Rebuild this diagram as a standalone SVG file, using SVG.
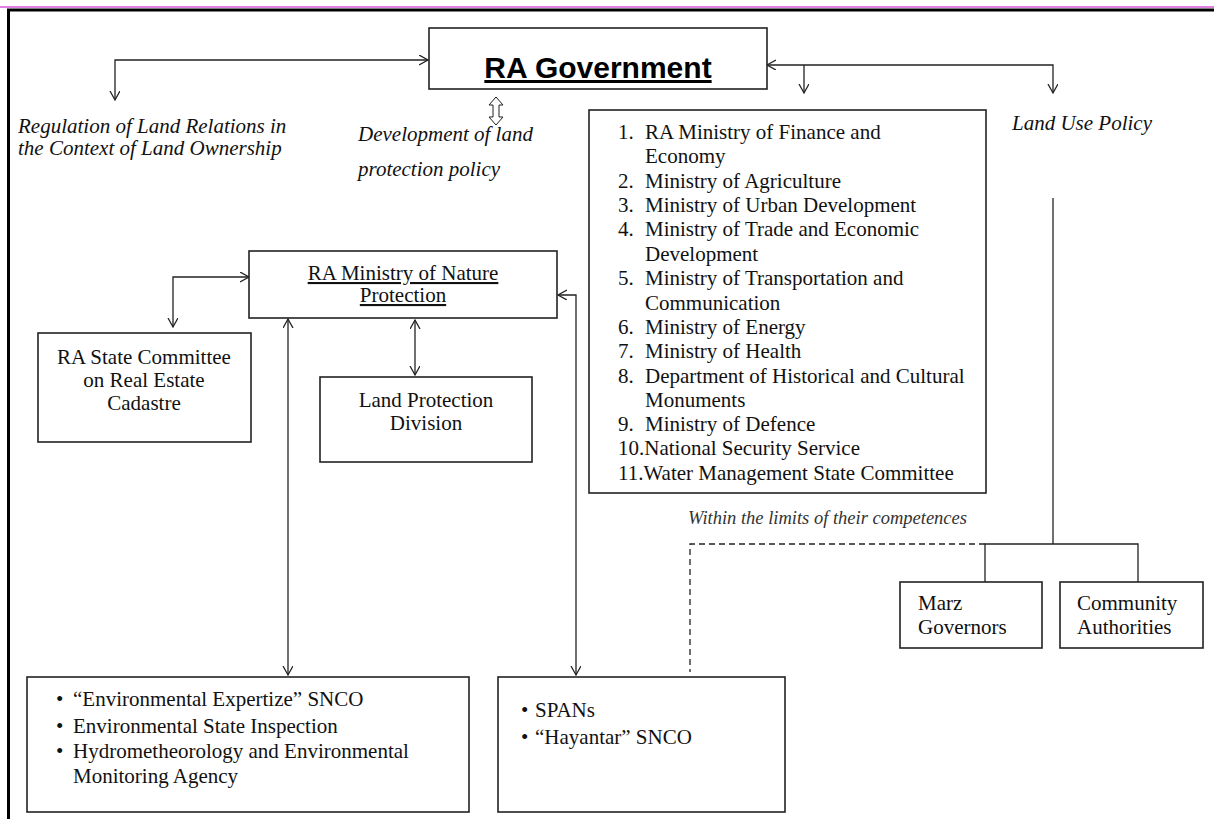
<svg xmlns="http://www.w3.org/2000/svg" width="1214" height="819" viewBox="0 0 1214 819">
<style>
.box{fill:#fff;stroke:#222;stroke-width:1.6}
.t{font-family:"Liberation Serif","Times New Roman",serif;font-size:21px;fill:#111}
.it{font-family:"Liberation Serif","Times New Roman",serif;font-size:21px;font-style:italic;fill:#111}
.c{text-anchor:middle}
.u{text-decoration:underline}
.ln{fill:none;stroke:#222;stroke-width:1.3}
.arr{marker-start:url(#ah);marker-end:url(#ah)}
.end{marker-end:url(#ah)}
</style>
<defs>
<marker id="ah" markerUnits="userSpaceOnUse" markerWidth="12" markerHeight="12" refX="9" refY="5" orient="auto-start-reverse" viewBox="0 0 12 12">
<path d="M0,0 L9,5 L0,10" fill="none" stroke="#222" stroke-width="1.3"/>
</marker>
</defs>
<rect width="1214" height="819" fill="#fff"/>
<g id="frame">
<line x1="0" y1="7" x2="1214" y2="7" stroke="#c000c0" stroke-width="1"/>
<line x1="7" y1="10" x2="1214" y2="10" stroke="#000" stroke-width="3"/>
<line x1="8.5" y1="9" x2="8.5" y2="819" stroke="#000" stroke-width="3"/>
</g>
<g id="connectors">
<path class="ln arr" d="M115,100 V60 H428"/>
<path class="ln arr" d="M767,65 H1053 V93"/>
<path class="ln end" d="M804,65 V93"/>
<polygon points="496,97 503,105 499,105 499,117 503,117 496,125 489,117 493,117 493,105 489,105" fill="#fff" stroke="#222" stroke-width="1"/>
<path class="ln arr" d="M173,327 V277 H249"/>
<path class="ln arr" d="M415,320 V375"/>
<path class="ln arr" d="M288,319 V675"/>
<path class="ln arr" d="M558,295 H576 V675"/>
<path class="ln" d="M1053,198 V544"/>
<path class="ln" d="M985,582 V544 H1138 V582"/>
<path class="ln" d="M985,544 H690 V672" stroke-dasharray="6,4"/>
</g>
<g id="labels">
<text class="it" x="18" y="133">Regulation of Land Relations in</text>
<text class="it" x="18" y="155">the Context of Land Ownership</text>
<text class="it" x="358" y="141">Development of land</text>
<text class="it" x="358" y="176">protection policy</text>
<text class="it" x="1012" y="130">Land Use Policy</text>
<text class="it" x="688" y="524" style="font-size:18.5px;fill:#333">Within the limits of their competences</text>
</g>
<g id="gov">
<rect class="box" x="429" y="28" width="338" height="61"/>
<text x="598" y="78" text-anchor="middle" style="font-family:'Liberation Sans',Arial,sans-serif;font-size:30px;font-weight:bold;text-decoration:underline">RA Government</text>
</g>
<g id="ministries">
<rect class="box" x="589" y="110" width="397" height="383"/>
<text class="t">
<tspan x="618" y="139">1.</tspan><tspan x="645" y="139">RA Ministry of Finance and</tspan>
<tspan x="645" y="163">Economy</tspan>
<tspan x="618" y="188">2.</tspan><tspan x="645" y="188">Ministry of Agriculture</tspan>
<tspan x="618" y="212">3.</tspan><tspan x="645" y="212">Ministry of Urban Development</tspan>
<tspan x="618" y="236">4.</tspan><tspan x="645" y="236">Ministry of Trade and Economic</tspan>
<tspan x="645" y="261">Development</tspan>
<tspan x="618" y="285">5.</tspan><tspan x="645" y="285">Ministry of Transportation and</tspan>
<tspan x="645" y="310">Communication</tspan>
<tspan x="618" y="334">6.</tspan><tspan x="645" y="334">Ministry of Energy</tspan>
<tspan x="618" y="358">7.</tspan><tspan x="645" y="358">Ministry of Health</tspan>
<tspan x="618" y="383">8.</tspan><tspan x="645" y="383">Department of Historical and Cultural</tspan>
<tspan x="645" y="407">Monuments</tspan>
<tspan x="618" y="431">9.</tspan><tspan x="645" y="431">Ministry of Defence</tspan>
<tspan x="618" y="455">10.National Security Service</tspan>
<tspan x="618" y="480">11.Water Management State Committee</tspan>
</text>
</g>
<g id="nature">
<rect class="box" x="249" y="251" width="308" height="67"/>
<text class="t c u" x="403" y="280">RA Ministry of Nature</text>
<text class="t c u" x="403" y="302">Protection</text>
</g>
<g id="cadastre">
<rect class="box" x="38" y="333" width="213" height="109"/>
<text class="t c" x="144" y="364">RA State Committee</text>
<text class="t c" x="144" y="387">on Real Estate</text>
<text class="t c" x="144" y="410">Cadastre</text>
</g>
<g id="landprot">
<rect class="box" x="320" y="377" width="212" height="85"/>
<text class="t c" x="426" y="407">Land Protection</text>
<text class="t c" x="426" y="430">Division</text>
</g>
<g id="env">
<rect class="box" x="27" y="677" width="442" height="135"/>
<text class="t">
<tspan x="56" y="706">•</tspan><tspan x="73" y="706">“Environmental Expertize” SNCO</tspan>
<tspan x="56" y="733">•</tspan><tspan x="73" y="733">Environmental State Inspection</tspan>
<tspan x="56" y="758">•</tspan><tspan x="73" y="758">Hydrometheorology and Environmental</tspan>
<tspan x="73" y="783">Monitoring Agency</tspan>
</text>
</g>
<g id="spans">
<rect class="box" x="498" y="677" width="287" height="135"/>
<text class="t">
<tspan x="521" y="717">•</tspan><tspan x="535" y="717">SPANs</tspan>
<tspan x="521" y="744">•</tspan><tspan x="535" y="744">“Hayantar” SNCO</tspan>
</text>
</g>
<g id="marz">
<rect class="box" x="900" y="582" width="142" height="66"/>
<text class="t" x="918" y="610">Marz</text>
<text class="t" x="918" y="634">Governors</text>
</g>
<g id="community">
<rect class="box" x="1060" y="582" width="143" height="66"/>
<text class="t" x="1077" y="610">Community</text>
<text class="t" x="1077" y="634">Authorities</text>
</g>
</svg>
